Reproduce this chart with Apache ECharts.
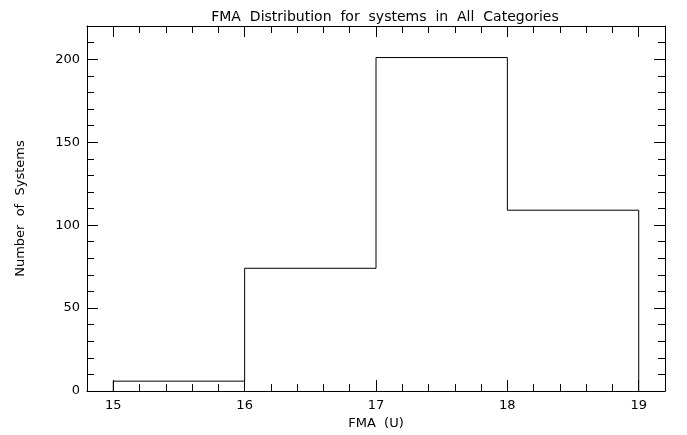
<!DOCTYPE html>
<html>
<head>
<meta charset="utf-8">
<script src="https://cdn.jsdelivr.net/npm/echarts@6/dist/echarts.min.js"></script>
<style>html,body{margin:0;padding:0;background:#fff;}#c{width:687px;height:435px;}</style>
</head>
<body>
<div id="c"></div>
<script>
const binEdges = [15, 16, 17, 18, 19];
const counts = [6, 74, 201, 109];
const xMajorTicks = [15, 16, 17, 18, 19];
const yMajorTicks = [0, 50, 100, 150, 200];
const xRange = [14.8, 19.2];
const yRange = [0, 220];
const titleText = 'FMA  Distribution  for  systems  in  All  Categories';
const xName = 'FMA  (U)';
const yName = 'Number  of  Systems';

const xMinorTicks = [];
for (let i = 74; i <= 96; i++) xMinorTicks.push(+(i * 0.2).toFixed(1));
const yMinorTicks = [];
for (let v = 0; v <= 220; v += 10) yMinorTicks.push(v);

// histogram outline from bin edges & counts
const outline = [[binEdges[0], 0]];
counts.forEach((c, i) => { outline.push([binEdges[i], c]); outline.push([binEdges[i + 1], c]); });
outline.push([binEdges[binEdges.length - 1], 0]);

const font = 'DejaVu Sans';
const lineCol = '#000';
function xAx(pos, major, showLine, showLabel, nameOn) {
  return {
    type: 'value', position: pos, min: xRange[0], max: xRange[1],
    axisLine: { show: showLine, onZero: false, lineStyle: { color: lineCol, width: 1 } },
    axisTick: { show: true, inside: true, length: major ? 11 : 7, customValues: major ? xMajorTicks : xMinorTicks, lineStyle: { color: lineCol, width: 1 } },
    axisLabel: { show: showLabel, customValues: xMajorTicks, color: '#000', fontFamily: font, fontSize: 13, margin: 8 },
    splitLine: { show: false },
    name: nameOn ? xName : '', nameLocation: 'middle', nameGap: 23,
    nameTextStyle: { color: '#000', fontFamily: font, fontSize: 13 }
  };
}
function yAx(pos, major, showLine, showLabel, nameOn) {
  return {
    type: 'value', position: pos, min: yRange[0], max: yRange[1],
    axisLine: { show: showLine, onZero: false, lineStyle: { color: lineCol, width: 1 } },
    axisTick: { show: true, inside: true, length: major ? 11 : 7, customValues: major ? yMajorTicks : yMinorTicks, lineStyle: { color: lineCol, width: 1 } },
    axisLabel: { show: showLabel, customValues: yMajorTicks, color: '#000', fontFamily: font, fontSize: 13, margin: 7 },
    splitLine: { show: false },
    name: nameOn ? yName : '', nameLocation: 'middle', nameGap: 60, nameRotate: 90,
    nameTextStyle: { color: '#000', fontFamily: font, fontSize: 13 }
  };
}

const chart = echarts.init(document.getElementById('c'), null, { renderer: 'canvas' });
chart.setOption({
  animation: false,
  backgroundColor: '#fff',
  title: { text: titleText, left: 380, top: 5, textAlign: 'center',
    textStyle: { color: '#000', fontFamily: font, fontSize: 14, fontWeight: 'normal' } },
  grid: { left: 87, right: 22, top: 26, bottom: 43, containLabel: false },
  xAxis: [
    xAx('bottom', true, true, true, true),
    xAx('bottom', false, false, false, false),
    xAx('top', true, true, false, false),
    xAx('top', false, false, false, false)
  ],
  yAxis: [
    yAx('left', true, true, true, true),
    yAx('left', false, false, false, false),
    yAx('right', true, true, false, false),
    yAx('right', false, false, false, false)
  ],
  series: [{
    type: 'line', xAxisIndex: 0, yAxisIndex: 0, data: outline,
    symbol: 'none', lineStyle: { color: '#000', width: 1 }, silent: true
  }]
});
</script>
</body>
</html>
